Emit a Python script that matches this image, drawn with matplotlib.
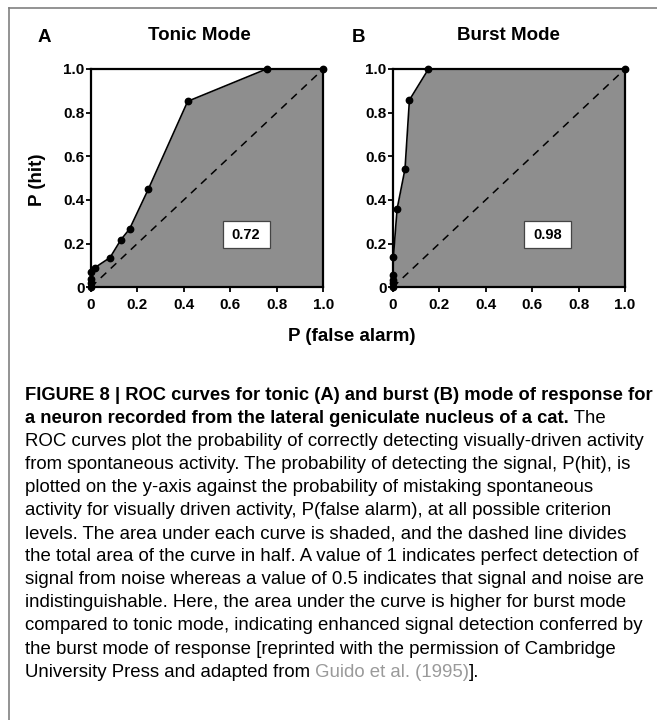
import matplotlib
matplotlib.use("Agg")
import matplotlib.pyplot as plt
from matplotlib.patches import Rectangle
from matplotlib.lines import Line2D

# ROC points (P(false alarm), P(hit))
tonic_fa = [0, 0, 0, 0, 0.018, 0.083, 0.13, 0.167, 0.248, 0.417, 0.756, 1.0]
tonic_hit = [0, 0.018, 0.037, 0.07, 0.09, 0.136, 0.218, 0.267, 0.45, 0.852, 1.0, 1.0]
burst_fa = [0, 0, 0, 0, 0.003, 0.019, 0.053, 0.072, 0.154, 1.0]
burst_hit = [0, 0.019, 0.034, 0.056, 0.141, 0.359, 0.542, 0.858, 1.0, 1.0]

areas = ["0.72", "0.98"]
titles = ["Tonic Mode", "Burst Mode"]
panel_letters = ["A", "B"]
tick_vals = [0, 0.2, 0.4, 0.6, 0.8, 1.0]
tick_labels = ["0", "0.2", "0.4", "0.6", "0.8", "1.0"]

caption_lines = [
    "FIGURE 8 | ROC curves for tonic (A) and burst (B) mode of response for",
    "a neuron recorded from the lateral geniculate nucleus of a cat.",
    "ROC curves plot the probability of correctly detecting visually-driven activity",
    "from spontaneous activity. The probability of detecting the signal, P(hit), is",
    "plotted on the y-axis against the probability of mistaking spontaneous",
    "activity for visually driven activity, P(false alarm), at all possible criterion",
    "levels. The area under each curve is shaded, and the dashed line divides",
    "the total area of the curve in half. A value of 1 indicates perfect detection of",
    "signal from noise whereas a value of 0.5 indicates that signal and noise are",
    "indistinguishable. Here, the area under the curve is higher for burst mode",
    "compared to tonic mode, indicating enhanced signal detection conferred by",
    "the burst mode of response [reprinted with the permission of Cambridge",
    "University Press and adapted from",
]
line2_tail = " The"
cite_text = " Guido et al. (1995)"
cite_tail = "]."

W, H = 657, 720
FONT = "Liberation Sans"
FILL = "#8e8e8e"

fig = plt.figure(figsize=(W / 100, H / 100), dpi=100)
fig.patch.set_facecolor("white")


def fx(px):
    return px / W


def fy(py):
    return 1 - py / H


# axes boxes in pixels: left, right, top, bottom
boxes = [(90.7, 323.3, 69, 287.3), (392.7, 625.0, 69, 287.3)]
series = [(tonic_fa, tonic_hit), (burst_fa, burst_hit)]
axes = []
for (l, r, t, b), (fa, hit), area in zip(boxes, series, areas):
    ax = fig.add_axes([fx(l), fy(b), (r - l) / W, (b - t) / H])
    ax.fill_between(fa, hit, 0, color=FILL, lw=0, zorder=1)
    ax.plot([0, 1], [0, 1], color="black", lw=1.1, dashes=(5, 4), zorder=2)
    ax.plot(fa, hit, color="black", lw=1.2, marker="o", ms=4.6,
            clip_on=False, zorder=4)
    ax.set_xlim(0, 1)
    ax.set_ylim(0, 1)
    ax.set_xticks(tick_vals)
    ax.set_xticklabels(tick_labels)
    ax.set_yticks(tick_vals)
    ax.set_yticklabels(tick_labels)
    for s in ax.spines.values():
        s.set_linewidth(1.6)
        s.set_zorder(3)
    ax.tick_params(axis="both", direction="out", length=3.5, width=1.3,
                   labelsize=11)
    ax.tick_params(axis="x", pad=4.5)
    ax.tick_params(axis="y", pad=1.0)
    for lab in ax.get_xticklabels() + ax.get_yticklabels():
        lab.set_fontweight("bold")
        lab.set_fontfamily(FONT)
    # area value box
    bw, bh = 47 / (r - l), 27 / (b - t)
    cx, cy = 0.668, 0.24
    ax.add_patch(Rectangle((cx - bw / 2, cy - bh / 2), bw, bh,
                           transform=ax.transAxes, fc="white", ec="#444444",
                           lw=0.9, zorder=5))
    ax.text(cx, cy, area, transform=ax.transAxes, ha="center", va="center",
            fontsize=10.5, fontweight="bold", family=FONT, zorder=6)
    axes.append(ax)

# titles and panel letters
fig.text(fx(199.5), fy(36), titles[0], ha="center", va="center",
         fontsize=13.5, fontweight="bold", family=FONT)
fig.text(fx(508), fy(36), titles[1], ha="center", va="center",
         fontsize=13.5, fontweight="bold", family=FONT)
fig.text(fx(38), fy(37), panel_letters[0], ha="left", va="center",
         fontsize=13.5, fontweight="bold", family=FONT)
fig.text(fx(351.5), fy(37), panel_letters[1], ha="left", va="center",
         fontsize=13.5, fontweight="bold", family=FONT)

# axis labels
fig.text(fx(38), fy(180), "P (hit)", rotation=90, ha="center", va="center",
         fontsize=13.5, fontweight="bold", family=FONT)
fig.text(fx(351.3), fy(336.5), "P (false alarm)", ha="center", va="center",
         fontsize=13.5, fontweight="bold", family=FONT)

# fit caption sizes to the reference line widths
renderer = fig.canvas.get_renderer()
probe = fig.text(0, 0, caption_lines[2], fontsize=12, family=FONT)
cap_size = 12 * 624 / probe.get_window_extent(renderer).width
probe.remove()
probe = fig.text(0, 0, caption_lines[0], fontsize=12, family=FONT,
                 fontweight="bold")
bold_size = 12 * 624 / probe.get_window_extent(renderer).width
probe.remove()

x0 = fx(25)
y_start, step = 395, 23.1
texts = []
for i, line in enumerate(caption_lines):
    bold = i < 2
    t = fig.text(x0, fy(y_start + i * step), line, ha="left", va="center",
                 fontsize=bold_size if bold else cap_size,
                 fontweight="bold" if bold else "normal", family=FONT)
    texts.append(t)

axes[0].annotate(line2_tail, xy=(1, 0), xycoords=texts[1],
                 ha="left", va="bottom", fontsize=cap_size, family=FONT)
cite = axes[0].annotate(cite_text, xy=(1, 0), xycoords=texts[-1],
                        ha="left", va="bottom", fontsize=cap_size,
                        family=FONT, color="#9a9a9a")
axes[0].annotate(cite_tail, xy=(1, 0), xycoords=cite, ha="left",
                 va="bottom", fontsize=cap_size, family=FONT)

# outer frame: top and left edges only
fig.add_artist(Line2D([fx(8.5), 1], [fy(7.5), fy(7.5)], color="#808080",
                      lw=1.2, transform=fig.transFigure))
fig.add_artist(Line2D([fx(8.5), fx(8.5)], [fy(7.5), 0], color="#808080",
                      lw=1.2, transform=fig.transFigure))

fig.savefig("out.png", dpi=100, facecolor="white")
